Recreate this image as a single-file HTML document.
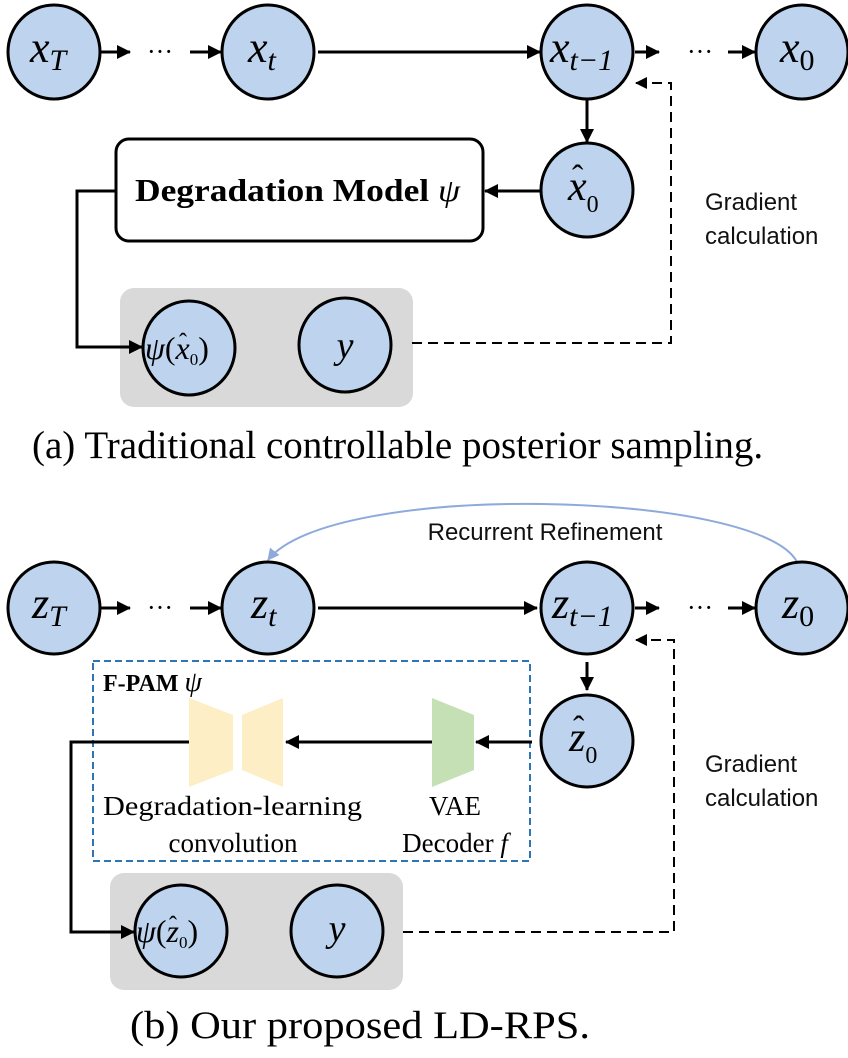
<!DOCTYPE html>
<html><head><meta charset="utf-8"><style>
html,body{margin:0;padding:0;background:#fff;}
svg{display:block;}
.m{font-family:"Liberation Serif",serif;font-style:italic;}
.s{font-family:"Liberation Serif",serif;}
.g{font-family:"Liberation Sans",sans-serif;font-size:24px;fill:#111;}
</style></head><body>
<svg width="848" height="1058" viewBox="0 0 848 1058" xmlns="http://www.w3.org/2000/svg">
<defs>
<marker id="a" markerWidth="16" markerHeight="16" refX="13" refY="7" orient="auto" markerUnits="userSpaceOnUse"><path d="M0,0 L14,7 L0,14 Z" fill="#000"/></marker>
<marker id="d" markerWidth="14" markerHeight="14" refX="11" refY="6" orient="auto" markerUnits="userSpaceOnUse"><path d="M0,0 L12,6 L0,12 Z" fill="#000"/></marker>
<marker id="b" markerWidth="14" markerHeight="14" refX="11" refY="6" orient="auto" markerUnits="userSpaceOnUse"><path d="M0,0 L12,6 L0,12 Z" fill="#8eaadb"/></marker>
</defs>
<g stroke="#000" stroke-width="3" fill="#bdd3ee">
<ellipse cx="54" cy="52" rx="46" ry="47"/>
<ellipse cx="268" cy="52" rx="46" ry="47"/>
<ellipse cx="587" cy="52" rx="46" ry="47"/>
<ellipse cx="802" cy="52" rx="46" ry="47"/>
<ellipse cx="587" cy="190" rx="46" ry="47"/>
</g>
<rect x="120" y="288" width="293" height="119" rx="14" fill="#d9d9d9"/>
<rect x="116" y="139" width="367" height="102" rx="13" fill="#fff" stroke="#000" stroke-width="3"/>
<g stroke="#000" stroke-width="3" fill="#bdd3ee">
<ellipse cx="189" cy="348" rx="46" ry="47"/>
<ellipse cx="345" cy="345" rx="46" ry="47"/>
</g>
<g stroke="#000" stroke-width="3" fill="none" marker-end="url(#a)">
<line x1="101" y1="52" x2="130" y2="52"/>
<line x1="190" y1="52" x2="221" y2="52"/>
<line x1="318" y1="52" x2="540" y2="52"/>
<line x1="635" y1="52" x2="659" y2="52"/>
<line x1="728" y1="52" x2="755" y2="52"/>
<line x1="587" y1="100" x2="587" y2="142"/>
<line x1="540" y1="191" x2="485" y2="191"/>
<polyline points="116,191 77,191 77,347 142,347"/>
</g>
<polyline points="412,343 671,343 671,83 636,83" stroke="#000" stroke-width="2" fill="none" stroke-dasharray="10,6" marker-end="url(#d)"/>
<text x="160" y="60" class="s" font-size="26" text-anchor="middle">···</text>
<text x="700" y="60" class="s" font-size="26" text-anchor="middle">···</text>
<text x="30" y="62" class="m" font-size="44">x<tspan font-size="30" dy="8">T</tspan></text>
<text x="248" y="62" class="m" font-size="44">x<tspan font-size="30" dy="8">t</tspan></text>
<text x="550" y="62" class="m" font-size="44">x<tspan font-size="30" dy="8">t−1</tspan></text>
<text x="780" y="62" class="m" font-size="44">x<tspan font-size="30" dy="8" font-style="normal">0</tspan></text>
<text x="568" y="200" class="m" font-size="42">x<tspan font-size="24" dy="12" font-style="normal">0</tspan></text>
<text x="572" y="188" class="s" font-size="34">ˆ</text>
<text x="135" y="201" class="s" font-size="32" font-weight="bold" textLength="325" lengthAdjust="spacingAndGlyphs">Degradation Model <tspan font-style="italic" font-weight="normal">ψ</tspan></text>
<text x="145" y="359" class="m" font-size="32">ψ<tspan font-style="normal">(</tspan>x<tspan font-size="17" dy="6" font-style="normal">0</tspan><tspan dy="-6" font-style="normal">)</tspan></text>
<text x="179" y="350" class="s" font-size="24">ˆ</text>
<text x="345" y="358" class="m" font-size="38" text-anchor="middle">y</text>
<text x="705" y="210" class="g">Gradient</text>
<text x="705" y="244" class="g">calculation</text>
<text x="32" y="458" class="s" font-size="39">(a) Traditional controllable posterior sampling.</text>

<!-- bottom -->
<path d="M797,562 C760,490 330,480 268,560" stroke="#8eaadb" stroke-width="2" fill="none" marker-end="url(#b)"/>
<text x="545" y="540" class="g" text-anchor="middle">Recurrent Refinement</text>
<g stroke="#000" stroke-width="3" fill="#bdd3ee">
<ellipse cx="54" cy="608" rx="46" ry="46"/>
<ellipse cx="268" cy="608" rx="46" ry="46"/>
<ellipse cx="587" cy="608" rx="46" ry="46"/>
<ellipse cx="802" cy="608" rx="46" ry="46"/>
<ellipse cx="587" cy="741" rx="46" ry="46"/>
</g>
<rect x="93" y="661" width="437" height="200" fill="none" stroke="#2e75b6" stroke-width="2" stroke-dasharray="7,4"/>
<rect x="110" y="873" width="293" height="117" rx="14" fill="#d9d9d9"/>
<g stroke="#000" stroke-width="3" fill="#bdd3ee">
<ellipse cx="181" cy="931" rx="46" ry="46"/>
<ellipse cx="337" cy="931" rx="46" ry="46"/>
</g>
<polygon points="432,698 474,715 474,770 432,787" fill="#c5e0b4"/>
<polygon points="189,698 233,715 233,770 189,787" fill="#fdeec6"/>
<polygon points="242,715 283,698 283,787 242,770" fill="#fdeec6"/>
<g stroke="#000" stroke-width="3" fill="none" marker-end="url(#a)">
<line x1="101" y1="608" x2="130" y2="608"/>
<line x1="190" y1="608" x2="221" y2="608"/>
<line x1="318" y1="608" x2="537" y2="608"/>
<line x1="635" y1="608" x2="659" y2="608"/>
<line x1="728" y1="608" x2="755" y2="608"/>
<line x1="587" y1="662" x2="587" y2="690"/>
<line x1="532" y1="742" x2="476" y2="742"/>
<line x1="432" y1="742" x2="286" y2="742"/>
<polyline points="189,742 71,742 71,932 134,932"/>
</g>
<polyline points="403,932 674,932 674,640 636,640" stroke="#000" stroke-width="2" fill="none" stroke-dasharray="10,6" marker-end="url(#d)"/>
<text x="160" y="616" class="s" font-size="26" text-anchor="middle">···</text>
<text x="700" y="616" class="s" font-size="26" text-anchor="middle">···</text>
<text x="32" y="618" class="m" font-size="44">z<tspan font-size="30" dy="8">T</tspan></text>
<text x="251" y="618" class="m" font-size="44">z<tspan font-size="30" dy="8">t</tspan></text>
<text x="552" y="618" class="m" font-size="44">z<tspan font-size="30" dy="8">t−1</tspan></text>
<text x="782" y="618" class="m" font-size="44">z<tspan font-size="30" dy="8" font-style="normal">0</tspan></text>
<text x="569" y="751" class="m" font-size="42">z<tspan font-size="24" dy="12" font-style="normal">0</tspan></text>
<text x="573" y="739" class="s" font-size="34">ˆ</text>
<text x="103" y="691" class="s" font-size="24" font-weight="bold">F-PAM <tspan font-style="italic" font-weight="normal" font-size="28">ψ</tspan></text>
<text x="103" y="815" class="s" font-size="27" textLength="259" lengthAdjust="spacingAndGlyphs">Degradation-learning</text>
<text x="233" y="852" class="s" font-size="27" text-anchor="middle">convolution</text>
<text x="455" y="815" class="s" font-size="27" text-anchor="middle">VAE</text>
<text x="455" y="852" class="s" font-size="27" text-anchor="middle">Decoder <tspan font-style="italic">f</tspan></text>
<text x="136" y="942" class="m" font-size="32">ψ<tspan font-style="normal">(</tspan>z<tspan font-size="17" dy="6" font-style="normal">0</tspan><tspan dy="-6" font-style="normal">)</tspan></text>
<text x="169" y="933" class="s" font-size="24">ˆ</text>
<text x="337" y="941" class="m" font-size="38" text-anchor="middle">y</text>
<text x="705" y="772" class="g">Gradient</text>
<text x="705" y="806" class="g">calculation</text>
<text x="130" y="1038" class="s" font-size="39" textLength="460" lengthAdjust="spacingAndGlyphs">(b) Our proposed LD-RPS.</text>
</svg>
</body></html>
